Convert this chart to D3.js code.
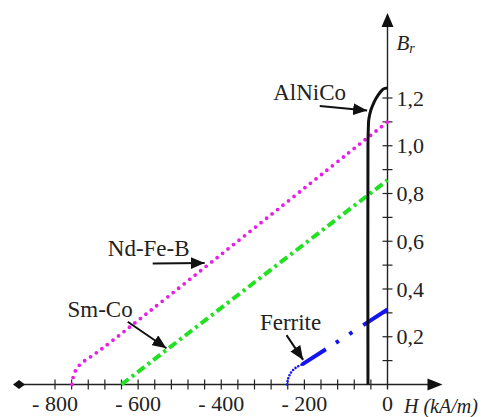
<!DOCTYPE html>
<html>
<head>
<meta charset="utf-8">
<script src="https://cdn.jsdelivr.net/npm/d3@7"></script>
<style>
  body { margin: 0; background: #fff; }
  svg { display: block; }
</style>
</head>
<body>
<svg id="chart"></svg>
<script>
// demagnetization curves: H in kA/m, B in T
const alnicoH = [-47, -47, -46, -45, -40, -33, -27, -17, -10, 0];
const alnicoB = [0, 1.0, 1.08, 1.11, 1.15, 1.18, 1.2, 1.225, 1.238, 1.242];

const ndfebH = [-759, -755, -748, -737, -701, -669, 0];
const ndfebB = [0, 0.04, 0.066, 0.088, 0.132, 0.174, 1.1];

const smcoH = [-640, 0];
const smcoB = [0, 0.856];

const ferriteKneeH = [-242, -239, -233, -224, -214, -206];
const ferriteKneeB = [0, 0.025, 0.048, 0.066, 0.077, 0.083];
const ferriteLineH = [-206, 0];
const ferriteLineB = [0.083, 0.314];

const xTickLabels = [-800, -600, -400, -200, 0];
const yTickLabels = [0.2, 0.4, 0.6, 0.8, 1.0, 1.2];

// annotations (text anchor + arrow, in data units)
const noteText = ["AlNiCo", "Nd-Fe-B", "Sm-Co", "Ferrite"];
const noteH = [-275, -673, -770, -307];
const noteB = [1.192, 0.538, 0.283, 0.228];
const arrowFromH = [-163, -565, -625, -243];
const arrowFromB = [1.166, 0.507, 0.263, 0.207];
const arrowToH = [-49, -440, -532, -203];
const arrowToB = [1.148, 0.509, 0.152, 0.103];

document.addEventListener("DOMContentLoaded", function () {
  const w = 491;
  const h = 417;
  const serif = "Liberation Serif";

  const svg = d3
    .select("#chart")
    .attr("width", w)
    .attr("height", h)
    .attr("font-family", serif);

  const x = d3.scaleLinear().domain([-800, 0]).range([55, 387.5]);
  const y = d3.scaleLinear().domain([0, 1.2]).range([384.5, 98]);

  const x0 = x(0);
  const y0 = y(0);
  const ink = "#222";

  svg
    .append("defs")
    .append("marker")
    .attr("id", "head")
    .attr("markerUnits", "userSpaceOnUse")
    .attr("markerWidth", 15)
    .attr("markerHeight", 12)
    .attr("refX", 14)
    .attr("refY", 6)
    .attr("orient", "auto")
    .append("path")
    .attr("d", "M0,0 L14,6 L0,12 Z")
    .attr("fill", "#111");

  // horizontal axis
  const xLeft = x(-800) - 36;
  const xRight = x0 + 55;
  svg
    .append("line")
    .attr("x1", xLeft)
    .attr("x2", xRight - 10)
    .attr("y1", y0)
    .attr("y2", y0)
    .attr("stroke", ink)
    .attr("stroke-width", 1.4);
  svg
    .append("path")
    .attr("d", `M${xRight},${y0} L${xRight - 15},${y0 - 6} L${xRight - 15},${y0 + 6} Z`)
    .attr("fill", "#111");
  svg
    .append("path")
    .attr("d", `M${xLeft - 6},${y0} L${xLeft},${y0 - 4.5} L${xLeft + 6},${y0} L${xLeft},${y0 + 4.5} Z`)
    .attr("fill", "#111");

  svg
    .selectAll(".xtick")
    .data(d3.range(-800, 0, 40))
    .enter()
    .append("line")
    .attr("class", "xtick")
    .attr("x1", (d) => x(d))
    .attr("x2", (d) => x(d))
    .attr("y1", y0 - 5)
    .attr("y2", y0 + 5)
    .attr("stroke", ink)
    .attr("stroke-width", 1.2);

  svg
    .selectAll(".xlabel")
    .data(xTickLabels)
    .enter()
    .append("text")
    .attr("class", "xlabel")
    .attr("x", (d) => x(d))
    .attr("y", 411)
    .attr("text-anchor", "middle")
    .attr("font-family", serif)
    .attr("font-size", "22px")
    .attr("fill", ink)
    .text((d) => (d < 0 ? "- " + Math.abs(d) : "0"));

  svg
    .append("text")
    .attr("x", 404)
    .attr("y", 413)
    .attr("font-family", serif)
    .attr("font-size", "20px")
    .attr("font-style", "italic")
    .attr("fill", ink)
    .text("H (kA/m)");

  // vertical axis
  const yTop = 13;
  svg
    .append("line")
    .attr("x1", x0)
    .attr("x2", x0)
    .attr("y1", y0 + 5)
    .attr("y2", yTop + 10)
    .attr("stroke", ink)
    .attr("stroke-width", 1.4);
  svg
    .append("path")
    .attr("d", `M${x0},${yTop} L${x0 - 6},${yTop + 14} L${x0 + 6},${yTop + 14} Z`)
    .attr("fill", "#111");

  svg
    .selectAll(".ytick")
    .data(d3.range(1, 13).map((i) => i / 10))
    .enter()
    .append("line")
    .attr("class", "ytick")
    .attr("x1", x0 - 5)
    .attr("x2", x0 + 5)
    .attr("y1", (d) => y(d))
    .attr("y2", (d) => y(d))
    .attr("stroke", ink)
    .attr("stroke-width", 1.2);

  svg
    .selectAll(".ylabel")
    .data(yTickLabels)
    .enter()
    .append("text")
    .attr("class", "ylabel")
    .attr("x", x0 + 9)
    .attr("y", (d) => y(d))
    .attr("dy", "0.35em")
    .attr("font-family", serif)
    .attr("font-size", "22px")
    .attr("fill", ink)
    .text((d) => d.toFixed(1).replace(".", ","));

  const br = svg
    .append("text")
    .attr("x", x0 + 9)
    .attr("y", 50)
    .attr("font-family", serif)
    .attr("font-size", "21px")
    .attr("font-style", "italic")
    .attr("fill", ink);
  br.append("tspan").text("B");
  br.append("tspan").attr("font-size", "14px").attr("dy", 3).text("r");

  // curves
  const line = d3
    .line()
    .x((d) => x(d[0]))
    .y((d) => y(d[1]))
    .curve(d3.curveCatmullRom.alpha(0.5));

  svg
    .append("path")
    .attr("d", line(d3.zip(ndfebH, ndfebB)))
    .attr("fill", "none")
    .attr("stroke", "#e81ee8")
    .attr("stroke-width", 3.8)
    .attr("stroke-linecap", "round")
    .attr("stroke-dasharray", "0,7");

  svg
    .append("path")
    .attr("d", line(d3.zip(smcoH, smcoB)))
    .attr("fill", "none")
    .attr("stroke", "#22e022")
    .attr("stroke-width", 4)
    .attr("stroke-dasharray", "9,4,3,4");

  svg
    .append("path")
    .attr("d", line(d3.zip(ferriteKneeH, ferriteKneeB)))
    .attr("fill", "none")
    .attr("stroke", "#1414f0")
    .attr("stroke-width", 2.6)
    .attr("stroke-linecap", "round")
    .attr("stroke-dasharray", "0,3.2");

  svg
    .append("path")
    .attr("d", line(d3.zip(ferriteLineH, ferriteLineB)))
    .attr("fill", "none")
    .attr("stroke", "#1414f0")
    .attr("stroke-width", 4)
    .attr("stroke-dasharray", "28.5,12,3.5,12.5,3.5,13,40");

  svg
    .append("path")
    .attr("d", line(d3.zip(alnicoH, alnicoB)))
    .attr("fill", "none")
    .attr("stroke", "#111")
    .attr("stroke-width", 3);

  // annotations
  const notes = svg
    .selectAll(".note")
    .data(noteText)
    .enter()
    .append("g")
    .attr("class", "note");

  notes
    .append("text")
    .attr("x", (d, i) => x(noteH[i]))
    .attr("y", (d, i) => y(noteB[i]))
    .attr("font-family", serif)
    .attr("font-size", "23px")
    .attr("fill", ink)
    .text((d) => d);

  notes
    .append("line")
    .attr("x1", (d, i) => x(arrowFromH[i]))
    .attr("y1", (d, i) => y(arrowFromB[i]))
    .attr("x2", (d, i) => x(arrowToH[i]))
    .attr("y2", (d, i) => y(arrowToB[i]))
    .attr("stroke", "#111")
    .attr("stroke-width", 2)
    .attr("marker-end", "url(#head)");
});
</script>
</body>
</html>
